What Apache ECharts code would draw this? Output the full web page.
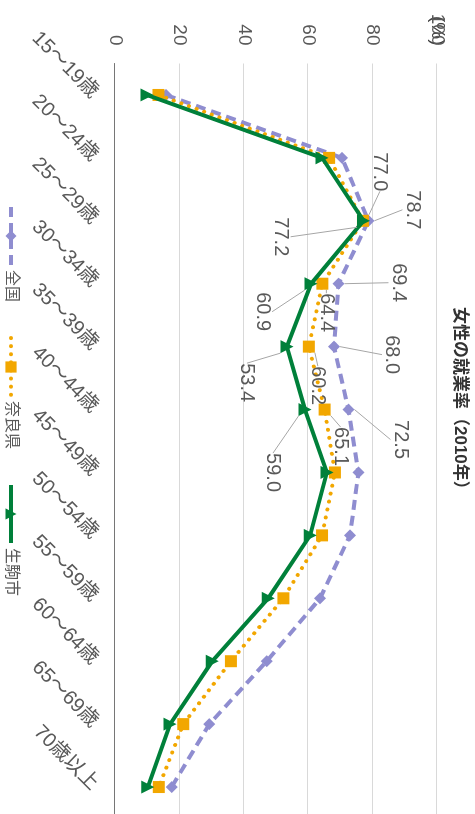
<!DOCTYPE html>
<html>
<head>
<meta charset="utf-8">
<script src="https://cdn.jsdelivr.net/npm/echarts@6/dist/echarts.min.js"></script>
<style>
  html, body { margin: 0; padding: 0; width: 475px; height: 814px; overflow: hidden; background: #fff; }
  /* landscape chart turned a quarter turn clockwise to fill the portrait page */
  #chart { position: absolute; left: 0; top: 0; width: 830px; height: 475px;
           transform-origin: 0 0; transform: translate(475px, 0) rotate(90deg); }
</style>
</head>
<body>
<div id="chart"></div>
<script>
// Age groups along the category axis
const ageGroups = ['15～19歳', '20～24歳', '25～29歳', '30～34歳', '35～39歳', '40～44歳',
                   '45～49歳', '50～54歳', '55～59歳', '60～64歳', '65～69歳', '70歳以上'];

// Female employment rate (%), 2010
const national = [15.8, 70.5, 78.7, 69.4, 68.0, 72.5, 75.6, 73.0, 63.7, 47.1, 29.3, 17.6];
const nara     = [13.5, 66.5, 77.0, 64.4, 60.2, 65.1, 68.3, 64.3, 52.3, 36.0, 21.2, 13.6];
const ikoma    = [ 9.9, 64.3, 77.2, 60.9, 53.4, 59.0, 65.8, 60.6, 47.6, 30.2, 17.1, 10.2];

// Value axis ticks (%)
const valueTicks = [0, 20, 40, 60, 80, 100];

// Age groups that carry a value callout
const calloutIndices = [2, 3, 4, 5];

// Callout placement relative to each point: [dx, dy] in px, per series
const calloutOffsets = [
  { 2: [-11, -44], 3: [-1, -60], 4: [8, -58], 5: [30, -52] },
  { 2: [-49, -17], 3: [29, -4],  4: [39, -9],  5: [37, -16] },
  { 2: [16, 83],   3: [28, 49],  4: [36, 40],  5: [63, 32] }
];

const FONT = '"Liberation Sans", "Noto Sans CJK JP", sans-serif';
const TEXT = '#595959';

function withCallouts(values) {
  return values.map((v, i) => calloutIndices.includes(i)
    ? { value: v, label: { show: true } }
    : { value: v });
}

const calloutLabel = {
  show: false,
  fontSize: 20,
  color: TEXT,
  fontFamily: FONT,
  formatter: p => p.value.toFixed(1)
};
const calloutLine = { show: true, length2: 0, lineStyle: { color: '#a6a6a6', width: 1 } };

function calloutLayout(p) {
  const off = calloutOffsets[p.seriesIndex] && calloutOffsets[p.seriesIndex][p.dataIndex];
  if (!off) return {};
  const cx = p.rect.x + p.rect.width / 2;
  const cy = p.rect.y + p.rect.height / 2;
  return { x: cx + off[0], y: cy + off[1], align: 'center', verticalAlign: 'middle' };
}

const chart = echarts.init(document.getElementById('chart'), null, { renderer: 'canvas' });

chart.setOption({
  animation: false,
  textStyle: { fontFamily: FONT },
  title: {
    text: '女性の就業率（2010年）',
    left: 302,
    top: 2,
    textStyle: { fontSize: 17, fontWeight: 'bold', color: '#333', fontFamily: FONT }
  },
  legend: {
    left: 200,
    top: 451,
    itemWidth: 58,
    itemHeight: 14,
    itemGap: 34,
    lineStyle: { width: 4 },
    textStyle: { fontSize: 16, color: TEXT, fontFamily: FONT },
    data: ['全国', '奈良県', '生駒市']
  },
  grid: { left: 63.5, top: 38, width: 755, height: 322, containLabel: false },
  xAxis: {
    type: 'category',
    data: ageGroups,
    boundaryGap: true,
    axisLine: { show: true, lineStyle: { color: '#767676', width: 1 } },
    axisTick: { show: false },
    axisLabel: { rotate: 45, fontSize: 20, color: TEXT, margin: 20, interval: 0, fontFamily: FONT }
  },
  yAxis: {
    type: 'value',
    min: valueTicks[0],
    max: valueTicks[valueTicks.length - 1],
    interval: valueTicks[1] - valueTicks[0],
    name: '(%)',
    nameLocation: 'end',
    nameGap: 0,
    nameMoveOverlap: false,
    nameTextStyle: { fontSize: 19, color: '#404040', align: 'right', verticalAlign: 'middle',
                     padding: [0, 18, 0, 0], fontFamily: FONT },
    axisLine: { show: false },
    axisTick: { show: false },
    axisLabel: { fontSize: 19, color: TEXT, margin: 18, fontFamily: FONT },
    splitLine: { show: true, lineStyle: { color: '#d9d9d9', width: 1 } }
  },
  series: [
    {
      name: '全国',
      type: 'line',
      data: withCallouts(national),
      symbol: 'diamond',
      symbolSize: 12,
      color: '#8f8dd0',
      lineStyle: { color: '#8f8dd0', width: 4, type: [10, 6] },
      itemStyle: { color: '#8f8dd0' },
      label: calloutLabel,
      labelLine: calloutLine,
      labelLayout: calloutLayout,
      z: 2
    },
    {
      name: '奈良県',
      type: 'line',
      data: withCallouts(nara),
      symbol: 'rect',
      symbolSize: 12,
      color: '#f2a700',
      lineStyle: { color: '#f2a700', width: 4, type: [0.1, 8], cap: 'round' },
      itemStyle: { color: '#f2a700' },
      label: calloutLabel,
      labelLine: calloutLine,
      labelLayout: calloutLayout,
      z: 3
    },
    {
      name: '生駒市',
      type: 'line',
      data: withCallouts(ikoma),
      symbol: 'triangle',
      symbolSize: 13,
      color: '#00803a',
      lineStyle: { color: '#00803a', width: 4 },
      itemStyle: { color: '#00803a' },
      label: calloutLabel,
      labelLine: calloutLine,
      labelLayout: calloutLayout,
      z: 4
    }
  ]
});
</script>
</body>
</html>
